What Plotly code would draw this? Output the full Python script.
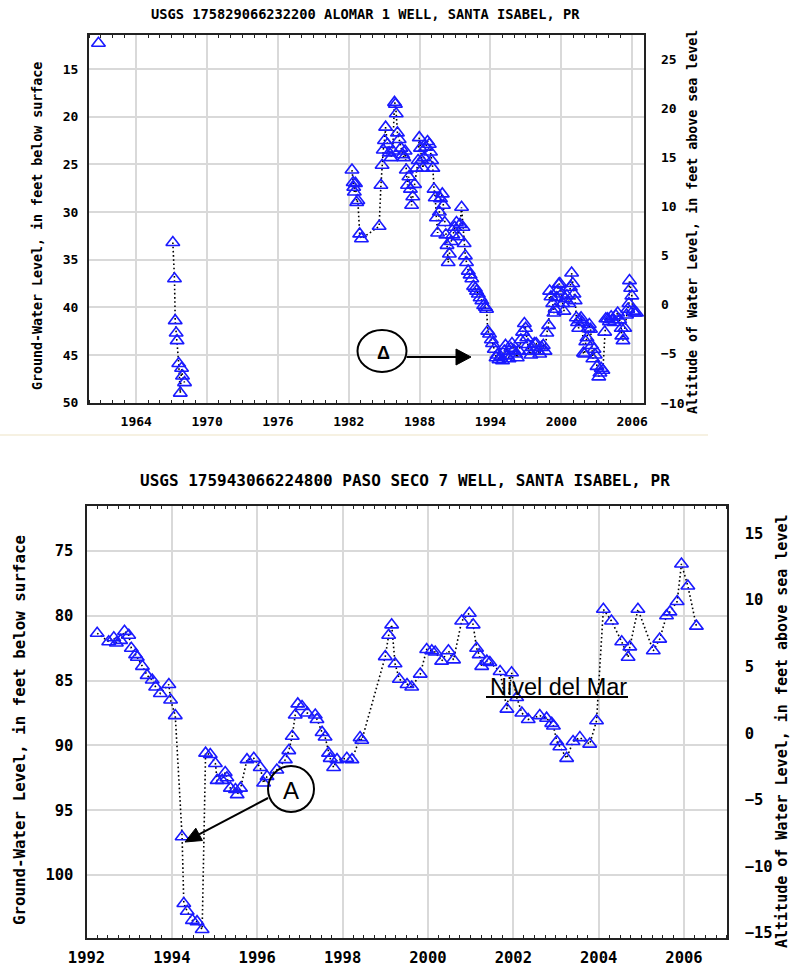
import plotly.graph_objects as go

# ---------------- DATA ----------------
# Top well: USGS 175829066232200 ALOMAR 1 (year, depth below surface in ft); None = gap
top_years = [1960.8, None,
             1967.10, 1967.24, 1967.30, 1967.38, 1967.46, 1967.60, 1967.73, 1967.84, 1967.92, 1968.09, None,
             1982.27, 1982.37, 1982.42, 1982.47, 1982.57, 1982.67, 1982.77, 1982.92, 1983.07,
             1984.57, 1984.72, 1984.82, 1984.92, 1985.02, 1985.12, 1985.27, 1985.42, 1985.57, 1985.72,
             1985.87, 1985.95, 1986.02, 1986.12, 1986.27, 1986.42, 1986.57, 1986.67, 1986.77, 1986.87,
             1986.97, 1987.09, 1987.22, 1987.32, 1987.42, 1987.57, 1987.72, 1987.87, 1987.97, 1988.07,
             1988.17, 1988.27, 1988.39, 1988.52, 1988.67, 1988.82, 1988.92, 1989.02, 1989.12, 1989.22,
             1989.32, 1989.42, 1989.52, 1989.67, 1989.77, 1989.92, 1990.02, 1990.12, 1990.22, 1990.32,
             1990.42, 1990.52, 1990.67, 1990.82, 1990.97, 1991.12, 1991.27, 1991.42, 1991.55, 1991.67,
             1991.77, 1991.87, 1991.97, 1992.12, 1992.27, 1992.42, 1992.57, 1992.72, 1992.82, 1992.97,
             1993.12, 1993.27, 1993.42, 1993.57, 1993.67, 1993.77, 1993.92, 1994.07, 1994.17, 1994.32,
             1994.47, 1994.57, 1994.72, 1994.87, 1995.02, 1995.17, 1995.27, 1995.42, 1995.57, 1995.72,
             1995.82, 1995.97, 1996.12, 1996.27, 1996.42, 1996.57, 1996.72, 1996.87, 1996.97, 1997.07,
             1997.17, 1997.27, 1997.42, 1997.57, 1997.72, 1997.87, 1998.02, 1998.17, 1998.32, 1998.47,
             1998.62, 1998.77, 1998.92, 1999.01, 1999.12, 1999.27, 1999.37, 1999.47, 1999.57, 1999.67,
             1999.77, 1999.87, 2000.02, 2000.12, 2000.22, 2000.32, 2000.47, 2000.62, 2000.77, 2000.87,
             2000.97, 2001.07, 2001.17, 2001.27, 2001.37, 2001.47, 2001.57, 2001.67, 2001.77, 2001.87,
             2001.97, 2002.07, 2002.17, 2002.27, 2002.37, 2002.47, 2002.57, 2002.67, 2002.77, 2002.87,
             2003.02, 2003.17, 2003.27, 2003.37, 2003.52, 2003.67, 2003.77, 2003.92, 2004.07, 2004.22,
             2004.35, 2004.47, 2004.62, 2004.77, 2004.94, 2005.07, 2005.12, 2005.22, 2005.37, 2005.52,
             2005.62, 2005.72, 2005.77, 2005.87, 2005.97, 2006.07, 2006.22, 2006.37]
top_depth = [12.3, None,
             33.2, 37.0, 41.4, 42.7, 43.5, 45.9, 49.0, 46.4, 47.2, 47.9, None,
             25.6, 26.9, 27.4, 27.9, 27.0, 29.0, 28.8, 32.3, 32.8,
             31.5, 27.2, 25.1, 23.5, 22.5, 21.1, 22.9, 23.8, 24.3, 23.6,
             18.5, 18.7, 19.7, 21.7, 22.4, 23.3, 24.0, 24.3, 23.6, 25.6,
             27.2, 26.3, 27.6, 29.3, 28.4, 27.1, 25.4, 24.6, 22.2, 23.3,
             24.6, 25.4, 24.3, 23.2, 22.6, 22.9, 23.7, 24.6, 25.4, 27.6,
             28.5, 30.6, 32.2, 30.0, 28.6, 28.1, 29.3, 31.1, 32.4, 33.5,
             35.3, 34.4, 33.1, 32.4, 31.6, 31.1, 32.6, 31.3, 29.5, 31.6,
             33.3, 34.6, 35.3, 36.2, 36.6, 37.0, 37.8, 38.0, 38.3, 38.6,
             39.0, 39.3, 39.8, 40.0, 40.2, 42.5, 42.8, 43.4, 43.8, 44.4,
             45.3, 45.0, 45.5, 45.2, 45.6, 44.6, 44.0, 45.1, 45.4, 44.3,
             43.8, 44.5, 44.9, 45.3, 44.6, 43.4, 42.6, 41.7, 42.2, 43.2,
             43.9, 44.6, 45.0, 44.2, 43.8, 43.8, 44.6, 44.9, 44.2, 44.0,
             44.6, 42.7, 41.9, 38.3, 38.9, 39.6, 40.6, 40.2, 39.0, 38.3,
             37.6, 37.5, 38.6, 39.6, 40.4, 39.1, 38.8, 39.6, 37.9, 36.4,
             37.5, 38.6, 39.3, 41.1, 41.6, 42.2, 41.3, 41.1, 41.6, 44.8,
             44.9, 43.6, 43.2, 42.2, 41.8, 42.3, 44.0, 45.4, 44.4, 45.0,
             46.2, 47.3, 46.9, 46.4, 46.6, 42.6, 41.2, 41.2, 41.5, 41.0,
             41.3, 41.6, 40.9, 40.6, 41.3, 42.2, 43.0, 43.5, 42.2, 40.8,
             40.2, 39.6, 37.2, 38.0, 38.8, 40.4, 40.6, 40.6]

# Bottom well: USGS 175943066224800 PASO SECO 7
bot_years = [1992.25, 1992.52, 1992.64, 1992.70, 1992.80, 1992.89, 1992.99, 1993.05, 1993.15, 1993.19,
             1993.31, 1993.42, 1993.54, 1993.62, 1993.73, 1993.93, 1993.97, 1994.08, 1994.24, 1994.28,
             1994.36, 1994.48, 1994.59, 1994.71, 1994.79, 1994.90, 1995.02, 1995.06, 1995.18, 1995.25,
             1995.29, 1995.37, 1995.49, 1995.53, 1995.61, 1995.76, 1995.92, 1996.07, 1996.15, 1996.23,
             1996.46, 1996.66, 1996.74, 1996.82, 1996.89, 1996.95, 1997.05, 1997.17, 1997.36, 1997.40,
             1997.52, 1997.59, 1997.67, 1997.71, 1997.79, 1997.87, 1998.10, 1998.22, 1998.41, 1998.45,
             1999.00, 1999.08, 1999.15, 1999.23, 1999.33, 1999.51, 1999.62, 1999.82, 1999.97, 2000.09,
             2000.17, 2000.32, 2000.48, 2000.60, 2000.79, 2000.97, 2001.06, 2001.14, 2001.20, 2001.26,
             2001.38, 2001.45, 2001.69, 2001.85, 2001.96, 2002.08, 2002.20, 2002.35, 2002.62, 2002.78,
             2002.90, 2002.94, 2003.02, 2003.09, 2003.25, 2003.40, 2003.56, 2003.79, 2003.95, 2004.11,
             2004.30, 2004.54, 2004.69, 2004.73, 2004.92, 2005.28, 2005.43, 2005.59, 2005.67, 2005.84,
             2005.94, 2006.09, 2006.29]
bot_depth = [81.35, 82.0, 81.7, 82.1, 81.9, 81.2, 81.5, 82.5, 83.0, 83.2,
             83.9, 84.6, 84.95, 85.5, 86.0, 85.3, 86.5, 87.7, 97.05, 102.2,
             102.8, 103.5, 103.6, 104.2, 90.6, 90.7, 91.4, 92.7, 92.7, 92.1,
             92.5, 93.3, 93.4, 93.8, 93.3, 91.1, 91.0, 91.7, 92.9, 92.4,
             91.9, 91.1, 90.4, 89.3, 87.65, 86.8, 87.0, 87.5, 87.65, 88.0,
             89.0, 89.35, 90.6, 91.0, 91.7, 91.1, 91.0, 91.1, 89.4, 89.6,
             83.15, 81.5, 80.7, 83.7, 84.9, 85.3, 85.5, 84.5, 82.6, 82.7,
             82.8, 83.5, 82.7, 83.4, 80.4, 79.8, 80.7, 82.5, 83.0, 83.9,
             83.5, 83.6, 84.3, 87.2, 84.4, 86.3, 87.5, 88.0, 87.7, 87.9,
             88.3, 88.5, 89.7, 90.1, 91.0, 89.7, 89.4, 89.9, 88.1, 79.5,
             80.4, 82.0, 83.2, 82.4, 79.5, 82.7, 81.8, 80.0, 79.7, 78.9,
             76.0, 77.7, 80.8]

top_title = "USGS 175829066232200 ALOMAR 1 WELL, SANTA ISABEL, PR"
bot_title = "USGS 175943066224800 PASO SECO 7 WELL, SANTA ISABEL, PR"
left_title = "Ground-Water Level, in feet below surface"
right_title = "Altitude of Water Level, in feet above sea level"
top_land_offset = 40.0   # altitude = offset - depth (for secondary-axis trace only)
bot_land_offset = 90.0

# ---------------- LAYOUT HELPERS ----------------
W, H = 792, 967
def PX(x):
    return x / W
def PY(y):
    return 1 - y / H

MONO = "DejaVu Sans Mono"
SANS = "Liberation Sans"
MARK = "#1a1aff"
GRID = "#d9d9d9"
FRAME = "#222222"

fig = go.Figure()

def add_series(xs, ys, xa, ya):
    fig.add_trace(go.Scatter(
        x=xs, y=ys, xaxis=xa, yaxis=ya, mode="lines+markers",
        line=dict(color="black", width=1.6, dash="1.6px,2.6px"),
        marker=dict(symbol="triangle-up-open", size=12, color=MARK, line=dict(width=1.6, color=MARK)),
        showlegend=False, hoverinfo="x+y"))

def add_ghost(xs, ys, xa, ya, off):
    alt = [None if v is None else off - v for v in ys]
    fig.add_trace(go.Scatter(x=xs, y=alt, xaxis=xa, yaxis=ya, mode="markers",
                             marker=dict(opacity=0), showlegend=False, hoverinfo="skip"))

add_series(top_years, top_depth, "x", "y")
add_ghost(top_years, top_depth, "x", "y3", top_land_offset)
add_series(bot_years, bot_depth, "x2", "y2")
add_ghost(bot_years, bot_depth, "x2", "y4", bot_land_offset)

def tf(size):
    return dict(family=MONO, size=size, color="black", weight="bold")

xcommon = dict(showgrid=True, gridcolor=GRID, gridwidth=2, showline=True, linecolor=FRAME,
               linewidth=2, mirror="allticks", ticks="", zeroline=False, automargin=False)
ycommon = dict(showgrid=True, gridcolor=GRID, gridwidth=2, showline=True, linecolor=FRAME,
               linewidth=2, mirror=True, ticks="", zeroline=False, automargin=False)

fig.update_layout(
    width=W, height=H, margin=dict(l=0, r=0, t=0, b=0, pad=0, autoexpand=False),
    paper_bgcolor="white", plot_bgcolor="white",
    xaxis=dict(domain=[PX(89), PX(644)], range=[1960, 2007], tick0=1964, dtick=6, anchor="y",
               tickfont=tf(13), ticklabelstandoff=5,
               minor=dict(ticks="inside", dtick=1, tick0=1960, ticklen=3, tickwidth=1, tickcolor=FRAME, showgrid=False),
               **xcommon),
    yaxis=dict(domain=[PY(403), PY(35)], range=[50.04, 11.43], tick0=15, dtick=5, anchor="x",
               tickfont=tf(13), ticklabelstandoff=6, **ycommon),
    yaxis3=dict(overlaying="y", side="right", anchor="x", range=[-10, 27.44], tick0=0, dtick=5,
                showgrid=False, showline=False, ticks="", zeroline=False, tickfont=tf(13),
                ticklabelstandoff=16, automargin=False),
    xaxis2=dict(domain=[PX(86.5), PX(726.7)], range=[1992, 2007], tick0=1992, dtick=2, anchor="y2",
                tickfont=tf(15.5), ticklabelstandoff=4,
                minor=dict(ticks="inside", dtick=0.25, tick0=1992, ticklen=3, tickwidth=1, tickcolor=FRAME, showgrid=False),
                **xcommon),
    yaxis2=dict(domain=[PY(938), PY(506)], range=[104.86, 71.53], tick0=75, dtick=5, anchor="x2",
                tickfont=tf(15.5), ticklabelstandoff=8, **ycommon),
    yaxis4=dict(overlaying="y2", side="right", anchor="x2", range=[-15.4, 17.07], tick0=0, dtick=5,
                showgrid=False, showline=False, ticks="", zeroline=False, tickfont=tf(15.5),
                ticklabelstandoff=17, automargin=False),
)

ann = []
def text(x, y, s, font, angle=0, xanchor="center", yanchor="middle"):
    ann.append(dict(x=PX(x), y=PY(y), xref="paper", yref="paper", text=s, showarrow=False,
                    font=font, textangle=angle, xanchor=xanchor, yanchor=yanchor))

text(365, 14, top_title, tf(13.7))
text(405, 480, bot_title, tf(16))
text(38, 226, left_title, tf(13.3), angle=-90)
text(693, 222, right_title, tf(13.3), angle=-90)
text(19, 730, left_title, tf(15.8), angle=-90)
text(782, 732, right_title, tf(15), angle=-90)
text(558, 687, "Nivel del Mar", dict(family=SANS, size=23.5, color="black"))
text(383, 353, "Δ", dict(family=SANS, size=18, color="black", weight="bold"))
text(291, 790, "A", dict(family=SANS, size=24, color="black"))
fig.update_layout(annotations=ann)

shapes = []
def line(x0, y0, x1, y1, w=2, c="black"):
    shapes.append(dict(type="line", xref="paper", yref="paper", x0=PX(x0), y0=PY(y0),
                       x1=PX(x1), y1=PY(y1), line=dict(color=c, width=w)))
def ellipse(x0, y0, x1, y1):
    shapes.append(dict(type="circle", xref="paper", yref="paper", x0=PX(x0), y0=PY(y0),
                       x1=PX(x1), y1=PY(y1), line=dict(color="black", width=2)))
def tri(pts):
    p = "M " + " L ".join(f"{PX(a)},{PY(b)}" for a, b in pts) + " Z"
    shapes.append(dict(type="path", xref="paper", yref="paper", path=p,
                       fillcolor="black", line=dict(color="black", width=1)))

# faint separator at the bottom of the upper graphic
line(0, 435, 708, 435, w=1.5, c="#f3ecd9")
# top annotation: ellipse with arrow
ellipse(357.5, 330, 406.5, 372)
line(406.5, 357, 457, 357)
tri([(471, 357), (456, 349), (456, 365)])
# bottom annotation: circle A with arrow
ellipse(268, 766, 314, 812)
line(268, 798, 199, 834.4)
tri([(185, 842), (202.4, 840.5), (195.8, 828.2)])
# underline of "Nivel del Mar"
line(486, 697, 628, 697)
fig.update_layout(shapes=shapes)

fig.write_html("out.html", config={"displayModeBar": False},
               post_script="document.body.style.margin='0';document.body.style.padding='0';")
